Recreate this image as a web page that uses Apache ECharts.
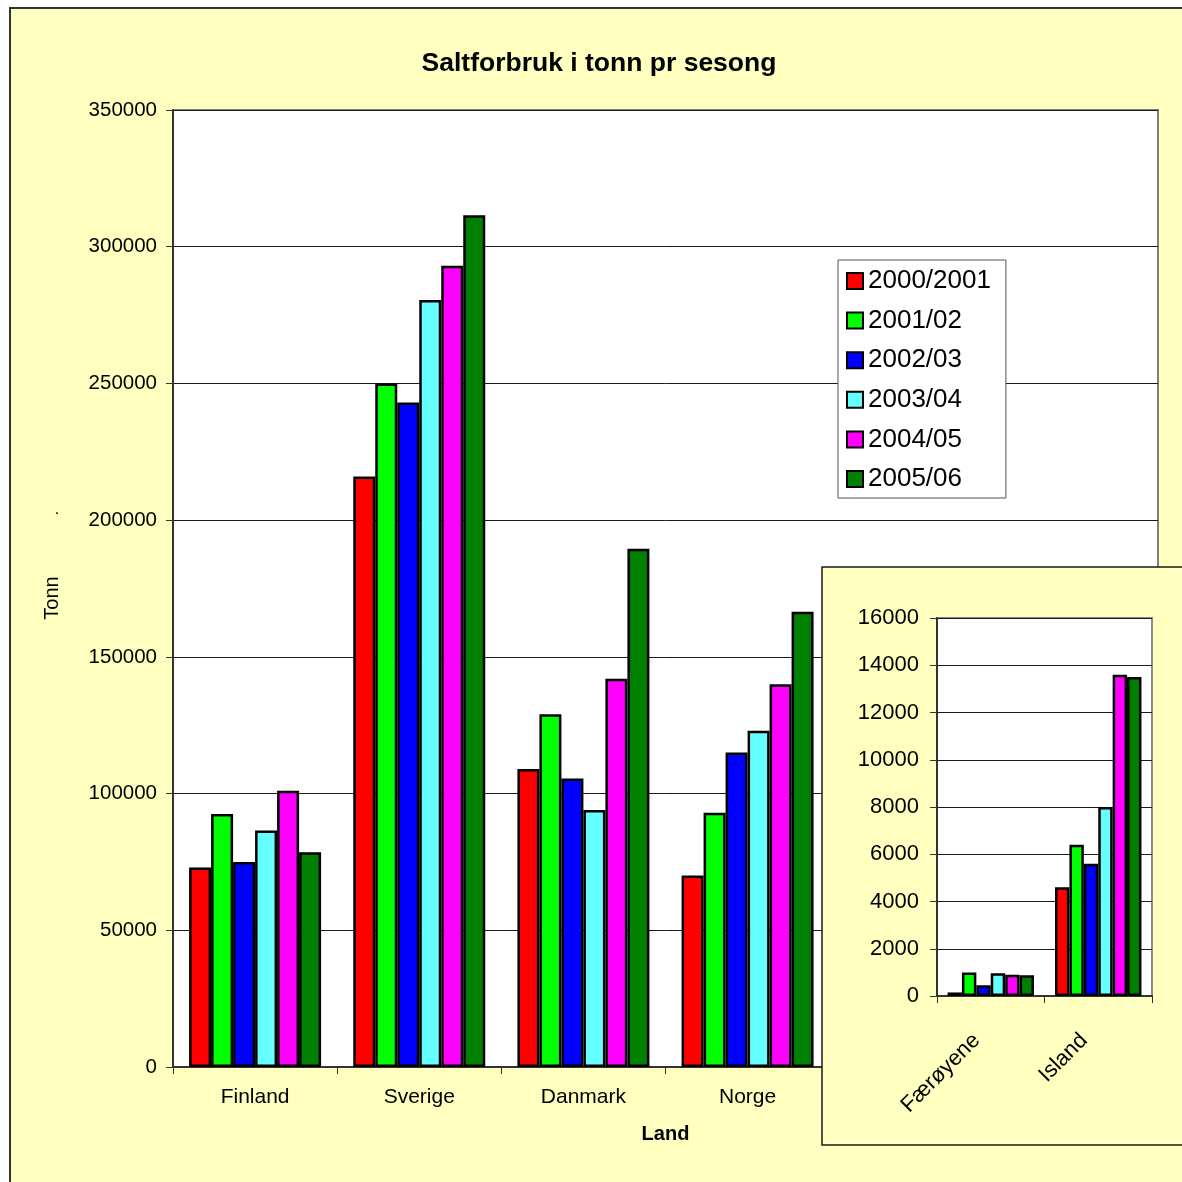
<!DOCTYPE html>
<html>
<head>
<meta charset="utf-8">
<script src="https://cdn.jsdelivr.net/npm/echarts@6/dist/echarts.min.js"></script>
<style>
  html, body { margin: 0; padding: 0; background: #ffffff; }
  #chart { width: 1182px; height: 1182px; }
</style>
</head>
<body>
<div id="chart"></div>
<script>
// Salt consumption (tonnes) per winter season and country
const categories = ['Finland', 'Sverige', 'Danmark', 'Norge', 'Færøyene', 'Island'];
const smallCountries = ['Færøyene', 'Island'];
const seasons = ['2000/2001', '2001/02', '2002/03', '2003/04', '2004/05', '2005/06'];

const season2000 = [73000, 216000, 109000, 70000, 150, 4600];
const season2001 = [92500, 250000, 129000, 93000, 1000, 6400];
const season2002 = [75000, 243000, 105500, 115000, 450, 5600];
const season2003 = [86500, 280500, 94000, 123000, 960, 8000];
const season2004 = [101000, 293000, 142000, 140000, 900, 13600];
const season2005 = [78500, 311500, 189500, 166500, 880, 13500];

const mainTicks = { min: 0, max: 350000, interval: 50000 };
const insetTicks = { min: 0, max: 16000, interval: 2000 };

const seasonValues = [season2000, season2001, season2002, season2003, season2004, season2005];
const seasonColors = ['#ff0000', '#00ff00', '#0000ff', '#66ffff', '#ff00ff', '#008000'];

const FONT = 'Liberation Sans, Arial, Helvetica, sans-serif';
const PAPER = '#ffffc0';

const chart = echarts.init(document.getElementById('chart'), null, { renderer: 'canvas' });

// values of the two small countries, shown again on their own scale
const smallIdx = smallCountries.map(c => categories.indexOf(c));

const barStyle = (color) => ({ color: color, borderColor: '#000000', borderWidth: 2.5 });
const plain = (v) => String(v);

const mainSeries = seasons.map((name, i) => ({
  name: name,
  type: 'bar',
  xAxisIndex: 0,
  yAxisIndex: 0,
  data: seasonValues[i],
  barGap: '0%',
  barCategoryGap: '19.6%',
  itemStyle: barStyle(seasonColors[i]),
  emphasis: { disabled: true },
  animation: false
}));

const insetSeries = seasons.map((name, i) => ({
  name: name,
  type: 'bar',
  xAxisIndex: 1,
  yAxisIndex: 1,
  zlevel: 1,
  z: 3,
  data: smallIdx.map(k => seasonValues[i][k]),
  barGap: '0%',
  barCategoryGap: '19.6%',
  itemStyle: barStyle(seasonColors[i]),
  emphasis: { disabled: true },
  animation: false
}));

const axisText = { color: '#000000', fontFamily: FONT };

chart.setOption({
  backgroundColor: '#ffffff',
  animation: false,
  title: {
    text: 'Saltforbruk i tonn pr sesong',
    left: 599,
    top: 50,
    padding: 0,
    textAlign: 'center',
    textStyle: { fontFamily: FONT, fontSize: 26.5, fontWeight: 'bold', color: '#000000' }
  },
  legend: {
    data: seasons,
    orient: 'vertical',
    left: 838,
    top: 260,
    padding: [8, 15, 6, 8],
    itemWidth: 16,
    itemHeight: 16,
    itemGap: 13.6,
    backgroundColor: '#ffffff',
    borderColor: '#555555',
    borderWidth: 1,
    borderRadius: 0,
    icon: 'rect',
    selectedMode: false,
    textStyle: { fontFamily: FONT, fontSize: 26, lineHeight: 26, color: '#000000' }
  },
  grid: [
    {
      left: 173, top: 110, right: 24, bottom: 115,
      show: true, backgroundColor: '#ffffff', borderColor: '#808080', borderWidth: 2
    },
    {
      left: 937, top: 618, right: 30, bottom: 186,
      show: true, backgroundColor: '#ffffff', borderColor: '#8a8a8a', borderWidth: 2,
      zlevel: 1, z: 1
    }
  ],
  xAxis: [
    {
      type: 'category',
      gridIndex: 0,
      data: categories,
      name: 'Land',
      nameLocation: 'middle',
      nameGap: 57,
      nameTextStyle: { fontFamily: FONT, fontSize: 20, fontWeight: 'bold', color: '#000000' },
      axisLine: { lineStyle: { color: '#333333', width: 2 } },
      axisTick: { show: true, length: 7, alignWithLabel: false, lineStyle: { color: '#333333', width: 1 } },
      axisLabel: Object.assign({ fontSize: 21, margin: 20, interval: 0 }, axisText),
      splitLine: { show: false }
    },
    {
      type: 'category',
      gridIndex: 1,
      data: smallCountries,
      zlevel: 1,
      z: 2,
      axisLine: { lineStyle: { color: '#333333', width: 2 } },
      axisTick: { show: true, length: 7, lineStyle: { color: '#333333', width: 1 } },
      axisLabel: Object.assign({ fontSize: 22, margin: 27, rotate: 45, interval: 0, padding: [0, 20, 0, 0] }, axisText),
      splitLine: { show: false }
    }
  ],
  yAxis: [
    {
      type: 'value',
      gridIndex: 0,
      min: mainTicks.min,
      max: mainTicks.max,
      interval: mainTicks.interval,
      axisLine: { show: true, lineStyle: { color: '#333333', width: 2 } },
      axisTick: { show: true, length: 7, lineStyle: { color: '#333333', width: 1 } },
      axisLabel: Object.assign({ fontSize: 20.5, margin: 16, formatter: plain }, axisText),
      splitLine: { show: true, lineStyle: { color: '#1a1a1a', width: 1 } }
    },
    {
      type: 'value',
      gridIndex: 1,
      min: insetTicks.min,
      max: insetTicks.max,
      interval: insetTicks.interval,
      zlevel: 1,
      z: 2,
      axisLine: { show: true, lineStyle: { color: '#333333', width: 2 } },
      axisTick: { show: true, length: 7, lineStyle: { color: '#333333', width: 1 } },
      axisLabel: Object.assign({ fontSize: 22, margin: 18, formatter: plain }, axisText),
      splitLine: { show: true, lineStyle: { color: '#1a1a1a', width: 1 } }
    }
  ],
  graphic: {
    elements: [
      {
        // chart area of the workbook chart
        type: 'rect',
        z: -10,
        silent: true,
        shape: { x: 10, y: 8, width: 1200, height: 1200 },
        style: { fill: PAPER, stroke: '#333333', lineWidth: 2 }
      },
      {
        // value axis title
        type: 'text',
        z: 5,
        silent: true,
        x: 52,
        y: 598,
        rotation: Math.PI / 2,
        style: { text: 'Tonn', fill: '#000000', font: '20px ' + FONT, align: 'center', verticalAlign: 'middle' }
      },
      {
        type: 'text',
        z: 5,
        silent: true,
        style: { x: 57, y: 510, text: '.', fill: '#000000', font: '16px ' + FONT, align: 'center', verticalAlign: 'middle' }
      },
      {
        // panel for the two small countries
        type: 'rect',
        zlevel: 1,
        z: 0,
        silent: true,
        shape: { x: 822, y: 567, width: 400, height: 578 },
        style: { fill: PAPER, stroke: '#1a1a1a', lineWidth: 1.5 }
      }
    ]
  },
  series: mainSeries.concat(insetSeries)
});
</script>
</body>
</html>
